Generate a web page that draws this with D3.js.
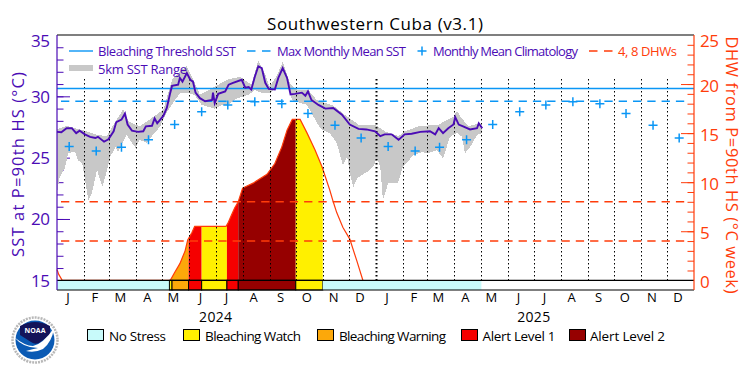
<!DOCTYPE html>
<html>
<head>
<meta charset="utf-8">
<script src="https://cdn.jsdelivr.net/npm/d3@7/dist/d3.min.js"></script>
<style>
    html, body { margin: 0; padding: 0; background: #fff; }
    svg { display: block; }
    text { font-family: "Open Sans", "DejaVu Sans", sans-serif; font-weight: 400; }
</style>
</head>
<body>
<div id="chart"></div>
<script>
    // day = days since 2024-01-01
    const sstDays = [0,5,11,17,22,26,32,38,44,47,54,59,65,68,74,78,81,86,93,99,102,109,112,115,122,126,130,132,139,141,144,149,153,156,159,164,170,178,179,181,185,193,197,202,212,216,220,223,227,231,235,239,243,250,254,259,264,268,273,281,285,288,292,300,308,317,327,336,346,355,365,371,376,384,392,399,407,417,428,434,438,443,449,455,457,461,466,474,482,484,488];
    const sstValues = [27.1,27.07,27.4,27.4,27.0,27.2,26.9,26.7,26.6,26.7,26.3,26.5,27.15,27.9,28.1,28.6,27.7,27.2,27.1,27.15,27.55,27.6,28.2,27.8,28.4,29.05,30.3,30.85,30.95,31.5,31.2,31.9,31.35,31.2,30.3,29.85,29.6,29.7,30.3,29.45,30.2,30.4,30.95,31.1,31.35,30.7,30.75,30.55,31.6,32.45,32.3,31.1,30.6,30.55,31.5,32.3,31.5,30.15,30.2,30.3,30.05,30.4,29.7,29.3,29.0,29.05,28.5,27.7,27.35,27.3,27.15,26.75,26.9,26.9,26.45,26.9,26.95,27.1,27.15,26.9,27.4,27.0,27.4,27.7,28.3,27.7,27.55,27.3,27.4,27.8,27.4];

    const rangeMaxDays = [0,11,21,34,44,57,65,76,82,95,114,122,132,141,149,158,164,179,195,210,218,223,231,239,244,252,259,267,275,288,298,317,332,346,365,376,392,399,415,438,455,459,463,472,484,488];
    const rangeMaxValues = [27.3,27.6,27.4,27.15,26.9,26.75,27.7,28.95,27.95,27.55,28.5,28.9,31.35,32.05,32.45,31.1,30.15,30.7,31.35,31.6,31.2,30.95,32.9,31.75,30.8,31.65,32.8,31.1,30.55,30.55,29.7,29.25,28.4,27.7,27.7,27.15,26.75,27.15,27.55,27.7,28.35,28.8,28.35,27.55,27.8,27.4];
    const rangeMinDays = [0,3,9,13,21,24,29,36,40,46,52,55,61,67,70,80,90,95,103,110,118,126,133,141,150,158,166,176,181,189,196,207,219,227,236,244,252,265,270,275,287,293,298,302,305,313,321,328,333,336,340,345,356,363,367,371,374,380,388,391,397,409,419,425,436,443,451,459,465,468,474,482,488];
    const rangeMinValues = [22.1,23.4,24.15,25.4,25.45,24.8,24.55,21.55,22.1,24.0,22.6,23.35,25.05,25.85,25.45,26.85,25.8,26.45,26.2,26.85,27.5,28.7,29.45,30.25,30.3,30.1,29.3,29.1,29.0,29.3,29.3,29.85,30.1,30.5,30.25,30.25,30.7,30.7,29.7,29.55,29.3,28.5,27.9,27.4,27.25,27.0,26.2,24.4,25.05,23.75,22.6,23.35,23.85,24.25,24.95,24.25,21.55,22.9,22.9,22.9,24.25,25.2,25.45,25.35,25.6,24.95,26.7,27,26.7,25.35,25.85,26.85,27];

    // monthly mean climatology, Jan..Dec
    const climatology = [25.9,25.55,25.85,26.45,27.7,28.75,29.3,29.55,29.4,28.6,27.65,26.6];
    const threshold = 30.64;
    const maxMonthlyMean = 29.6;

    const dhwDays = [0,2,6,130,135,141,147,150,155,158,194,196,201,204,208,213,225,241,250,258,264,270,279,287,296,304,313,317,321,328,336,344,351];
    const dhwValues = [1.1,0.6,0,0,0.8,1.7,3.0,4.1,4.9,5.5,5.5,5.8,6.8,7.4,8,9.4,9.9,10.8,11.9,13.6,15.3,16.4,16.4,15,13.3,11.6,9.2,8,6.9,5.4,4.2,2,0];
    const dhwLevels = [4, 8];

    // stress periods, level index into stressNames
    const stressStart = [0,129,132,151,166,195,208,274,305];
    const stressEnd = [129,132,151,166,195,208,274,305,487];
    const stressLevel = [0,1,2,3,1,3,4,1,0];
    const stressNames = ["No Stress", "Bleaching Watch", "Bleaching Warning", "Alert Level 1", "Alert Level 2"];
    const stressColors = ["#c8fafa", "#fff000", "#fca80a", "#f50000", "#960000"];

    const monthLabels = ["J","F","M","A","M","J","J","A","S","O","N","D"];
    const yearLabels = [2024, 2025];

    const purple = "#4b0bb5";
    const orange = "#ff3c0a";
    const blue = "#0a96f5";
    const gray = "#c8c8c8";

    const width = 750;
    const height = 375;
    const margin = { left: 57, right: 56, top: 35, bottom: 85 };
    const plotRight = width - margin.right;
    const plotBottom = height - margin.bottom;
    const baseline = 280.3;

    const x = d3.scaleTime()
        .domain([new Date(2024, 0, 1), new Date(2026, 0, 1)])
        .range([margin.left, plotRight]);
    const dayDate = d => new Date(2024, 0, 1 + d);
    const xDay = d => x(dayDate(d));

    const ySst = d3.scaleLinear().domain([15, 35]).range([baseline, margin.top]);
    const yDhw = d3.scaleLinear().domain([0, 25]).range([baseline, margin.top]);
    const snap = v => Math.round(v) + 0.5;

    const svg = d3.select("#chart").append("svg")
        .attr("width", width)
        .attr("height", height)
        .attr("viewBox", `0 0 ${width} ${height}`);

    function label(g, str, px, py, len, color, size, anchor) {
        return g.append("text")
            .attr("x", px)
            .attr("y", py)
            .attr("fill", color)
            .attr("font-size", size)
            .attr("dominant-baseline", "central")
            .attr("text-anchor", anchor || "start")
            .attr("textLength", len)
            .attr("lengthAdjust", "spacing")
            .text(str);
    }

    // axes
    svg.append("g")
        .attr("transform", `translate(${margin.left},0)`)
        .call(d3.axisRight(ySst).tickValues(d3.range(15, 35)).tickSize(6.5).tickFormat(""))
        .call(g => g.select(".domain").remove())
        .selectAll("line").attr("stroke", purple);
    svg.append("g")
        .attr("transform", `translate(${margin.left},0)`)
        .call(d3.axisRight(ySst).tickValues([15, 20, 25, 30]).tickSize(13).tickFormat(""))
        .call(g => g.select(".domain").remove())
        .selectAll("line").attr("stroke", purple);
    svg.append("g")
        .attr("transform", `translate(${plotRight},0)`)
        .call(d3.axisLeft(yDhw).tickValues(d3.range(1, 25)).tickSize(6.5).tickFormat(""))
        .call(g => g.select(".domain").remove())
        .selectAll("line").attr("stroke", orange);
    svg.append("g")
        .attr("transform", `translate(${plotRight},0)`)
        .call(d3.axisLeft(yDhw).tickValues([5, 10, 15, 20]).tickSize(13).tickFormat(""))
        .call(g => g.select(".domain").remove())
        .selectAll("line").attr("stroke", orange);

    // 5km range
    const rangeUpper = rangeMaxDays.map((d, i) => [xDay(d), ySst(rangeMaxValues[i])]);
    const rangeLower = rangeMinDays.map((d, i) => [xDay(d), ySst(rangeMinValues[i])]).reverse();
    svg.append("path")
        .attr("d", d3.line()(rangeUpper.concat(rangeLower)) + "Z")
        .attr("fill", gray)
        .attr("shape-rendering", "crispEdges");

    // DHW fills by stress level
    const dhwArea = d3.area()
        .x((d, i) => xDay(dhwDays[i]))
        .y0(baseline)
        .y1(d => yDhw(d));
    const defs = svg.append("defs");
    stressStart.forEach((s, i) => {
        if (stressLevel[i] === 0) return;
        const id = "clip" + i;
        defs.append("clipPath").attr("id", id).append("rect")
            .attr("x", xDay(s))
            .attr("y", margin.top)
            .attr("width", xDay(stressEnd[i]) - xDay(s))
            .attr("height", baseline - margin.top);
        svg.append("path")
            .attr("d", dhwArea(dhwValues))
            .attr("fill", stressColors[stressLevel[i]])
            .attr("clip-path", `url(#${id})`);
    });
    svg.append("path")
        .attr("d", d3.line().x((d, i) => xDay(dhwDays[i])).y(d => yDhw(d))(dhwValues))
        .attr("fill", "none")
        .attr("stroke", orange)
        .attr("stroke-width", 1.2);

    // month gridlines
    const monthStarts = d3.timeMonth.range(new Date(2024, 1, 1), new Date(2026, 0, 1));
    svg.append("g").selectAll("line")
        .data(monthStarts)
        .join("line")
        .attr("x1", d => snap(x(d)))
        .attr("x2", d => snap(x(d)))
        .attr("y1", 79)
        .attr("y2", baseline)
        .attr("stroke", "#000")
        .attr("stroke-width", d => d.getMonth() === 0 && d.getFullYear() === 2025 ? 2 : 1)
        .attr("stroke-dasharray", "1.5,2.5");

    // threshold lines
    svg.append("line")
        .attr("x1", margin.left).attr("x2", plotRight)
        .attr("y1", ySst(threshold)).attr("y2", ySst(threshold))
        .attr("stroke", blue).attr("stroke-width", 1.4);
    svg.append("line")
        .attr("x1", 61).attr("x2", 690)
        .attr("y1", ySst(maxMonthlyMean)).attr("y2", ySst(maxMonthlyMean))
        .attr("stroke", blue).attr("stroke-width", 1.5).attr("stroke-dasharray", "8.3,6");
    svg.append("g").selectAll("line")
        .data(dhwLevels)
        .join("line")
        .attr("x1", 61).attr("x2", 690)
        .attr("y1", d => yDhw(d)).attr("y2", d => yDhw(d))
        .attr("stroke", orange).attr("stroke-width", 1.5).attr("stroke-dasharray", "8.3,6");

    // climatology pluses, same 12 values in both years
    const plusDates = yearLabels.flatMap(yr => climatology.map((v, m) => ({ date: new Date(yr, m, 15), v })));
    svg.append("g").selectAll("path")
        .data(plusDates)
        .join("path")
        .attr("transform", d => `translate(${x(d.date)},${ySst(d.v)})`)
        .attr("d", "M-4.5,0H4.5M0,-4.5V4.5")
        .attr("stroke", blue)
        .attr("stroke-width", 1.5)
        .attr("fill", "none");

    // SST
    svg.append("path")
        .attr("d", d3.line().x((d, i) => xDay(sstDays[i])).y(d => ySst(d))(sstValues))
        .attr("fill", "none")
        .attr("stroke", purple)
        .attr("stroke-width", 1.9);

    // stress strip
    svg.append("g").selectAll("rect")
        .data(stressStart)
        .join("rect")
        .attr("x", d => xDay(d))
        .attr("y", baseline)
        .attr("width", (d, i) => xDay(stressEnd[i]) - xDay(d))
        .attr("height", plotBottom - baseline)
        .attr("fill", (d, i) => stressColors[stressLevel[i]])
        .attr("stroke", (d, i) => stressLevel[i] === 0 ? "none" : "#000")
        .attr("stroke-width", 1);

    // frame
    const frame = svg.append("g");
    frame.append("line").attr("x1", margin.left).attr("x2", plotRight).attr("y1", margin.top).attr("y2", margin.top).attr("stroke", "#000").attr("stroke-width", 1.2);
    frame.append("line").attr("x1", margin.left).attr("x2", plotRight).attr("y1", baseline).attr("y2", baseline).attr("stroke", "#000").attr("stroke-width", 1.2);
    frame.append("line").attr("x1", margin.left).attr("x2", plotRight).attr("y1", plotBottom).attr("y2", plotBottom).attr("stroke", "#000").attr("stroke-width", 1.2);
    frame.append("line").attr("x1", margin.left).attr("x2", margin.left).attr("y1", margin.top).attr("y2", plotBottom).attr("stroke", purple).attr("stroke-width", 1.2);
    frame.append("line").attr("x1", plotRight).attr("x2", plotRight).attr("y1", margin.top).attr("y2", plotBottom).attr("stroke", orange).attr("stroke-width", 1.2);

    // tick labels
    const sstTicks = [35, 30, 25, 20, 15];
    const dhwTicks = [25, 20, 15, 10, 5, 0];
    const labels = svg.append("g");
    sstTicks.forEach(t => {
        label(labels, t, 50, Math.max(ySst(t), 40), 19, purple, 17, "end");
    });
    dhwTicks.forEach(t => {
        label(labels, t, 700, Math.max(yDhw(t) + 1, 40), t === 0 ? 9 : 19, orange, 17);
    });

    // months and years
    const monthMid = d3.timeMonth.range(new Date(2024, 0, 1), new Date(2026, 0, 1)).map(d => new Date(d.getFullYear(), d.getMonth(), 13));
    const monthAxis = svg.append("g")
        .attr("transform", `translate(0,${plotBottom})`)
        .call(d3.axisBottom(x).tickValues(monthMid).tickSize(0).tickPadding(3)
            .tickFormat(d => monthLabels[d.getMonth()]));
    monthAxis.select(".domain").remove();
    monthAxis.selectAll("text").attr("font-size", 13).attr("fill", "#000");
    yearLabels.forEach(yr => {
        label(labels, yr, x(new Date(yr, 6, 1)), 316, 33, "#000", 14, "middle");
    });

    // titles
    label(labels, "Southwestern Cuba (v3.1)", 267, 23, 216, "#000", 17);
    svg.append("text")
        .attr("transform", "translate(17,164.5) rotate(-90)")
        .attr("fill", purple).attr("font-size", 16.5).attr("text-anchor", "middle").attr("dominant-baseline", "central")
        .attr("textLength", 185).attr("lengthAdjust", "spacing")
        .text("SST at P=90th HS (°C)");
    svg.append("text")
        .attr("transform", "translate(732,165) rotate(90)")
        .attr("fill", orange).attr("font-size", 16.5).attr("text-anchor", "middle").attr("dominant-baseline", "central")
        .attr("textLength", 257).attr("lengthAdjust", "spacing")
        .text("DHW from P=90th HS (°C week)");

    // top legend
    const legend = svg.append("g");
    legend.append("line").attr("x1", 69).attr("x2", 93).attr("y1", 51).attr("y2", 51).attr("stroke", blue).attr("stroke-width", 1.4);
    label(legend, "Bleaching Threshold SST", 98, 51, 138, purple, 13);
    legend.append("line").attr("x1", 247).attr("x2", 271).attr("y1", 51).attr("y2", 51).attr("stroke", blue).attr("stroke-width", 1.5).attr("stroke-dasharray", "8.5,6.5");
    label(legend, "Max Monthly Mean SST", 277, 51, 129, purple, 13);
    legend.append("path").attr("d", "M417.5,51H426.5M422,46.5V55.5").attr("stroke", blue).attr("stroke-width", 1.5);
    label(legend, "Monthly Mean Climatology", 433, 51, 145, purple, 13);
    legend.append("line").attr("x1", 589).attr("x2", 613).attr("y1", 51).attr("y2", 51).attr("stroke", orange).attr("stroke-width", 1.5).attr("stroke-dasharray", "8.5,6.5");
    label(legend, "4, 8 DHWs", 618, 51, 59, orange, 13);
    legend.append("rect").attr("x", 69).attr("y", 65).attr("width", 24).attr("height", 6).attr("fill", gray);
    label(legend, "5km SST Range", 98, 69, 89, purple, 13);

    // bottom legend
    const boxX = [87.5, 183.5, 317.5, 461.5, 569.5];
    const textX = [109, 205, 339, 482.5, 590];
    const textLen = [57, 96, 107, 73, 75];
    stressNames.forEach((name, i) => {
        legend.append("rect")
            .attr("x", boxX[i]).attr("y", 329.5).attr("width", 16).attr("height", 11)
            .attr("fill", stressColors[i]).attr("stroke", "#000").attr("stroke-width", 1);
        label(legend, name, textX[i], 335.5, textLen[i], "#000", 13.5);
    });

    // NOAA logo
    const logo = svg.append("g").attr("transform", "translate(35,340)");
    logo.append("circle").attr("r", 22.5).attr("fill", "#fff").attr("stroke", "#b8b8b8").attr("stroke-width", 2.5).attr("stroke-dasharray", "2,1");
    logo.append("circle").attr("r", 19.5).attr("fill", "#0a5ab4");
    logo.append("path").attr("d", "M-15,-14 Q0,-22 15,-14 L15,-5 L4,3 Q0,5 -4,2 L-15,-5Z").attr("fill", "#14145a");
    logo.append("path").attr("d", "M-21,-3 Q-10,6 -2,6 Q8,4 19,-12 Q17,2 8,9 Q0,13 -9,11 Q-2,9 3,8 Q-12,8 -21,-3Z").attr("fill", "#fff");
    logo.append("text").attr("y", -9.5).attr("text-anchor", "middle").attr("dominant-baseline", "central")
        .attr("font-size", 7).style("font-weight", 700).attr("fill", "#fff").text("NOAA");
</script>
</body>
</html>
